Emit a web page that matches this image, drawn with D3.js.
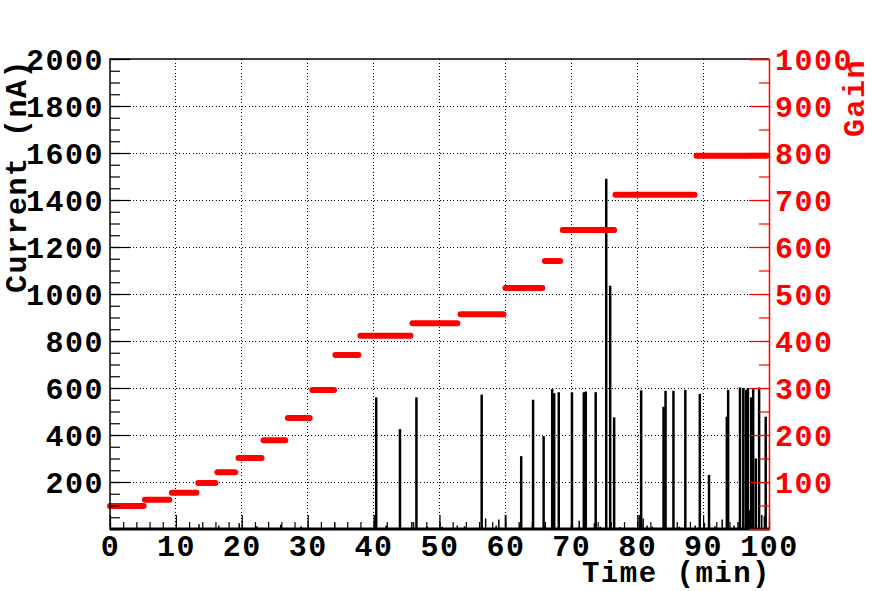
<!DOCTYPE html>
<html>
<head>
<meta charset="utf-8">
<script src="https://cdn.jsdelivr.net/npm/d3@7/dist/d3.min.js"></script>
<style>
  body { margin: 0; background: #fff; }
  text { font-family: "Liberation Mono", "DejaVu Sans Mono", monospace; font-weight: bold; letter-spacing: 1.5px; }
</style>
</head>
<body>
<div id="chart"></div>
<script>
// gain steps
const gainStart = [0, 5.3, 9.4, 13.4, 16.3, 19.5, 23.3, 27.0, 30.7, 34.2, 38.0, 45.9, 53.2, 60.0, 66.0, 68.7, 76.7, 89.0]
const gainEnd   = [5.1, 9.0, 13.1, 16.0, 19.0, 23.0, 26.6, 30.3, 34.0, 37.7, 45.6, 52.7, 59.7, 65.6, 68.3, 76.5, 88.7, 99.6]
const gainValue = [49, 62, 77, 98, 121, 151, 189, 236, 296, 370, 411, 438, 457, 513, 570, 636, 711, 794]

// current spikes (min, nA)
const spikeTime    = [40.4, 44.0, 46.5, 56.4, 62.4, 64.2, 65.8, 67.1, 67.4, 68.1, 70.1, 71.9, 72.2, 73.7,
                      75.3, 75.9, 76.5, 80.6, 84.0, 84.3, 85.5, 87.3, 89.5, 90.9, 93.6, 93.8,
                      95.6, 96.1, 96.5, 96.8, 97.3, 97.6, 98.0, 98.5, 99.5]
const spikeCurrent = [560, 425, 560, 572, 310, 550, 395, 595, 578, 582, 582, 582, 585, 582,
                      1490, 1035, 475, 590, 520, 588, 588, 592, 575, 230, 478, 592,
                      602, 600, 592, 600, 560, 595, 300, 602, 478]

// small baseline bumps
const noiseTime    = [13.5, 16.5, 19.6, 22.3, 25.9, 29.0, 34.1, 40.2, 41.9, 45.8, 48.1, 50.4, 52.7, 53.8,
                      57.0, 58.6, 59.0, 60.0, 62.2, 70.0, 71.2, 73.5, 74.4, 77.4, 80.3, 80.9, 81.5,
                      82.3, 86.4, 88.8, 90.2, 91.8, 92.9, 94.7, 95.3, 97.0, 98.9, 99.3]
const noiseCurrent = [20, 15, 25, 12, 18, 12, 27, 60, 15, 30, 12, 10, 15, 12,
                      45, 15, 40, 60, 22, 15, 35, 25, 10, 8, 60, 45, 15,
                      10, 10, 15, 25, 12, 40, 15, 30, 80, 60, 55]

const timeTicks    = [0, 10, 20, 30, 40, 50, 60, 70, 80, 90, 100]
const currentTicks = [200, 400, 600, 800, 1000, 1200, 1400, 1600, 1800, 2000]
const gainTicks    = [100, 200, 300, 400, 500, 600, 700, 800, 900, 1000]

const WIDTH = 872, HEIGHT = 591
const FRAME = {left: 110, right: 769, top: 59, bottom: 529}
const RED = "#ff0000"
const FS = 30

const svg = d3.select("#chart").append("svg")
    .attr("width", WIDTH)
    .attr("height", HEIGHT)
svg.append("rect").attr("width", WIDTH).attr("height", HEIGHT).attr("fill", "#fff")

const x = d3.scaleLinear().domain([0, 100]).range([FRAME.left, FRAME.right])
const y = d3.scaleLinear().domain([0, 2000]).range([FRAME.bottom, FRAME.top])
const yGain = d3.scaleLinear().domain([0, 1000]).range([FRAME.bottom, FRAME.top])

// dotted grid
const grid = svg.append("g")
    .attr("stroke", "#000")
    .attr("stroke-width", 1)
    .attr("stroke-dasharray", "1,2.3")
    .attr("shape-rendering", "crispEdges")
grid.selectAll("line.v")
    .data(timeTicks.slice(1, -1))
    .join("line")
        .attr("class", "v")
        .attr("x1", d => x(d)).attr("x2", d => x(d))
        .attr("y1", FRAME.bottom).attr("y2", FRAME.top)
grid.selectAll("line.h")
    .data(currentTicks.slice(0, -1))
    .join("line")
        .attr("class", "h")
        .attr("x1", FRAME.left).attr("x2", FRAME.right)
        .attr("y1", d => y(d)).attr("y2", d => y(d))

// current trace
const trace = svg.append("g").attr("stroke", "#000")
trace.append("line")
    .attr("x1", x(0)).attr("x2", x(100))
    .attr("y1", y(0)).attr("y2", y(0))
    .attr("stroke-width", 3)
trace.selectAll("line.noise")
    .data(noiseTime)
    .join("line")
        .attr("class", "noise")
        .attr("x1", d => x(d)).attr("x2", d => x(d))
        .attr("y1", y(0))
        .attr("y2", (d, i) => y(noiseCurrent[i]))
        .attr("stroke-width", 1.5)
trace.selectAll("line.spike")
    .data(spikeTime)
    .join("line")
        .attr("class", "spike")
        .attr("x1", d => x(d)).attr("x2", d => x(d))
        .attr("y1", y(0))
        .attr("y2", (d, i) => y(spikeCurrent[i]))
        .attr("stroke-width", 2.5)

// gain steps
svg.append("g")
    .selectAll("line")
    .data(gainValue)
    .join("line")
        .attr("x1", (d, i) => x(gainStart[i]))
        .attr("x2", (d, i) => x(gainEnd[i]))
        .attr("y1", d => yGain(d)).attr("y2", d => yGain(d))
        .attr("stroke", RED)
        .attr("stroke-width", 6)
        .attr("stroke-linecap", "round")

// frame
svg.append("path")
    .attr("d", `M${FRAME.right},${FRAME.top}H${FRAME.left}V${FRAME.bottom}H${FRAME.right}`)
    .attr("fill", "none")
    .attr("stroke", "#000")
    .attr("stroke-width", 1.5)

const fmt = d3.format("d")

// bottom axis
svg.append("g")
    .attr("transform", `translate(0,${FRAME.bottom})`)
    .call(d3.axisBottom(x).tickValues(d3.range(0, 101, 2)).tickSize(-7).tickFormat(""))
const xAxis = svg.append("g")
    .attr("transform", `translate(0,${FRAME.bottom})`)
    .call(d3.axisBottom(x).tickValues(timeTicks).tickSize(-14).tickFormat(fmt))
xAxis.selectAll("text")
    .attr("y", 27).attr("dy", 0)
    .style("font-size", FS + "px")
    .attr("fill", "#000")

// left axis
svg.append("g")
    .attr("transform", `translate(${FRAME.left},0)`)
    .call(d3.axisLeft(y).tickValues(d3.range(0, 2001, 50)).tickSize(-10).tickFormat(""))
const yAxis = svg.append("g")
    .attr("transform", `translate(${FRAME.left},0)`)
    .call(d3.axisLeft(y).tickValues(currentTicks).tickSize(-20).tickFormat(fmt))
yAxis.selectAll("text")
    .attr("x", -6).attr("dy", "0.34em")
    .style("font-size", FS + "px")
    .attr("fill", "#000")

// right axis (gain)
svg.append("g")
    .attr("transform", `translate(${FRAME.right},0)`)
    .call(d3.axisRight(yGain).tickValues(d3.range(0, 1001, 50)).tickSize(-10).tickFormat(""))
    .call(g => g.selectAll("line").attr("stroke", RED))
    .call(g => g.select(".domain").remove())
const gAxis = svg.append("g")
    .attr("transform", `translate(${FRAME.right},0)`)
    .call(d3.axisRight(yGain).tickValues(gainTicks).tickSize(-20).tickFormat(fmt))
gAxis.select(".domain").attr("stroke", RED).attr("stroke-width", 1.5)
gAxis.selectAll("line").attr("stroke", RED)
gAxis.selectAll("text")
    .attr("x", 6).attr("dy", "0.34em")
    .style("font-size", FS + "px")
    .attr("fill", RED)

svg.selectAll(".domain").filter(function() { return this.parentNode !== gAxis.node() }).remove()
svg.selectAll(".tick line").attr("stroke-width", 1.2)

// axis titles
svg.append("text")
    .attr("text-anchor", "end")
    .attr("x", FRAME.right + 2)
    .attr("y", 582)
    .style("font-size", "29px")
    .text("Time (min)")
svg.append("text")
    .attr("text-anchor", "end")
    .attr("transform", `translate(26,${FRAME.top}) rotate(-90)`)
    .style("font-size", FS + "px")
    .text("Current (nA)")
svg.append("text")
    .attr("text-anchor", "end")
    .attr("transform", `translate(864,${FRAME.top}) rotate(-90)`)
    .style("font-size", FS + "px")
    .attr("fill", RED)
    .text("Gain")
</script>
</body>
</html>
